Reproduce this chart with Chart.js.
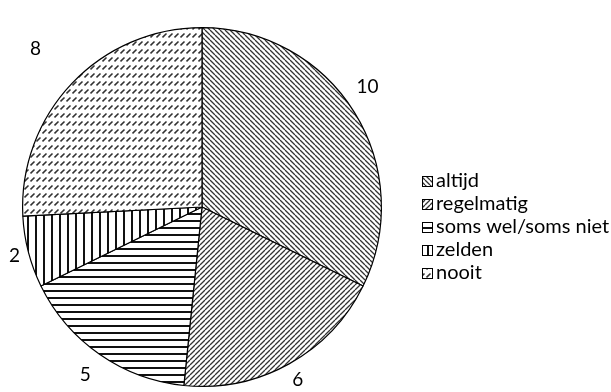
<!DOCTYPE html>
<html>
<head>
<meta charset="utf-8">
<script src="https://cdn.jsdelivr.net/npm/chart.js@4.4.1/dist/chart.umd.min.js"></script>
<style>
  html, body { margin: 0; padding: 0; background: #fff; }
  #wrap { width: 611px; height: 392px; position: relative; }
</style>
</head>
<body>
<div id="wrap"><canvas id="pie"></canvas></div>
<script>
// categories and values
const categories = ['altijd', 'regelmatig', 'soms wel/soms niet', 'zelden', 'nooit'];
const counts = [10, 6, 5, 2, 8];

// pattern kinds, one per slice
const patternKinds = ['back', 'fwd', 'horiz', 'vert', 'dash'];

const FONT = "Lato, 'Open Sans', sans-serif";

function makePattern(kind) {
    const c = document.createElement('canvas');
    const g = c.getContext('2d');
    let s;
    if (kind === 'back' || kind === 'fwd') {
        s = 5;
        c.width = c.height = s;
        g.fillStyle = '#fff';
        g.fillRect(0, 0, s, s);
        g.strokeStyle = '#333';
        g.lineWidth = 1.3;
        g.beginPath();
        for (let k = -1; k <= 1; k++) {
            if (kind === 'back') {
                g.moveTo(k * s, 0); g.lineTo(k * s + s, s);
            } else {
                g.moveTo(k * s, s); g.lineTo(k * s + s, 0);
            }
        }
        g.stroke();
    } else if (kind === 'horiz') {
        s = 7;
        c.width = c.height = s;
        g.fillStyle = '#fff';
        g.fillRect(0, 0, s, s);
        g.fillStyle = '#111';
        g.fillRect(0, 3, s, 2);
    } else if (kind === 'vert') {
        s = 8;
        c.width = c.height = s;
        g.fillStyle = '#fff';
        g.fillRect(0, 0, s, s);
        g.fillStyle = '#111';
        g.fillRect(3, 0, 2, s);
    } else {
        c.width = 6; c.height = 8;
        g.fillStyle = '#fff';
        g.fillRect(0, 0, 6, 8);
        g.strokeStyle = '#333';
        g.lineWidth = 1.6;
        g.beginPath();
        g.moveTo(0.5, 5.5); g.lineTo(4.5, 1.5);
        g.stroke();
    }
    return g.createPattern(c, 'repeat');
}

const patterns = patternKinds.map(makePattern);

// outside labels, pushed out from each arc
const outsideLabels = {
    id: 'outsideLabels',
    afterDatasetsDraw(chart, args, opts) {
        const ctx = chart.ctx;
        const meta = chart.getDatasetMeta(0);
        ctx.save();
        ctx.font = '19px ' + FONT;
        ctx.fillStyle = '#000';
        ctx.textAlign = 'center';
        ctx.textBaseline = 'middle';
        meta.data.forEach((arc, i) => {
            const p = arc.getProps(['x', 'y', 'startAngle', 'endAngle', 'outerRadius'], true);
            const mid = (p.startAngle + p.endAngle) / 2 + opts.shift[i];
            const r = p.outerRadius * opts.factors[i];
            ctx.fillText(String(chart.data.datasets[0].data[i]), p.x + Math.cos(mid) * r, p.y + Math.sin(mid) * r);
        });
        ctx.restore();
    }
};

// legend on the right with little pattern boxes
const sideLegend = {
    id: 'sideLegend',
    afterDraw(chart, args, opts) {
        const ctx = chart.ctx;
        ctx.save();
        ctx.font = '20px ' + FONT;
        ctx.textBaseline = 'middle';
        chart.data.labels.forEach((lab, i) => {
            const y = opts.top + i * opts.step;
            ctx.fillStyle = '#fff';
            ctx.fillRect(opts.left, y - 5, 10, 10);
            ctx.fillStyle = patterns[i];
            ctx.fillRect(opts.left, y - 5, 10, 10);
            ctx.strokeStyle = '#000';
            ctx.lineWidth = 1;
            ctx.strokeRect(opts.left + 0.5, y - 4.5, 10, 10);
            ctx.fillStyle = '#000';
            ctx.fillText(lab, opts.left + 14, y);
        });
        ctx.restore();
    }
};

new Chart(document.getElementById('pie'), {
    type: 'pie',
    data: {
        labels: categories,
        datasets: [{
            data: counts,
            backgroundColor: patterns,
            borderColor: '#000',
            borderWidth: 1.2,
        }],
    },
    options: {
        responsive: true,
        maintainAspectRatio: false,
        animation: false,
        layout: { padding: { left: 22, top: 27, right: 229, bottom: 5 } },
        plugins: {
            legend: { display: false },
            tooltip: { enabled: false },
            outsideLabels: {
                factors: [1.14, 1.10, 1.14, 1.08, 1.28],
                shift: [-0.07, 0, 0, 0, 0],
            },
            sideLegend: { left: 422, top: 181, step: 23 },
        },
    },
    plugins: [outsideLabels, sideLegend],
});
</script>
</body>
</html>
